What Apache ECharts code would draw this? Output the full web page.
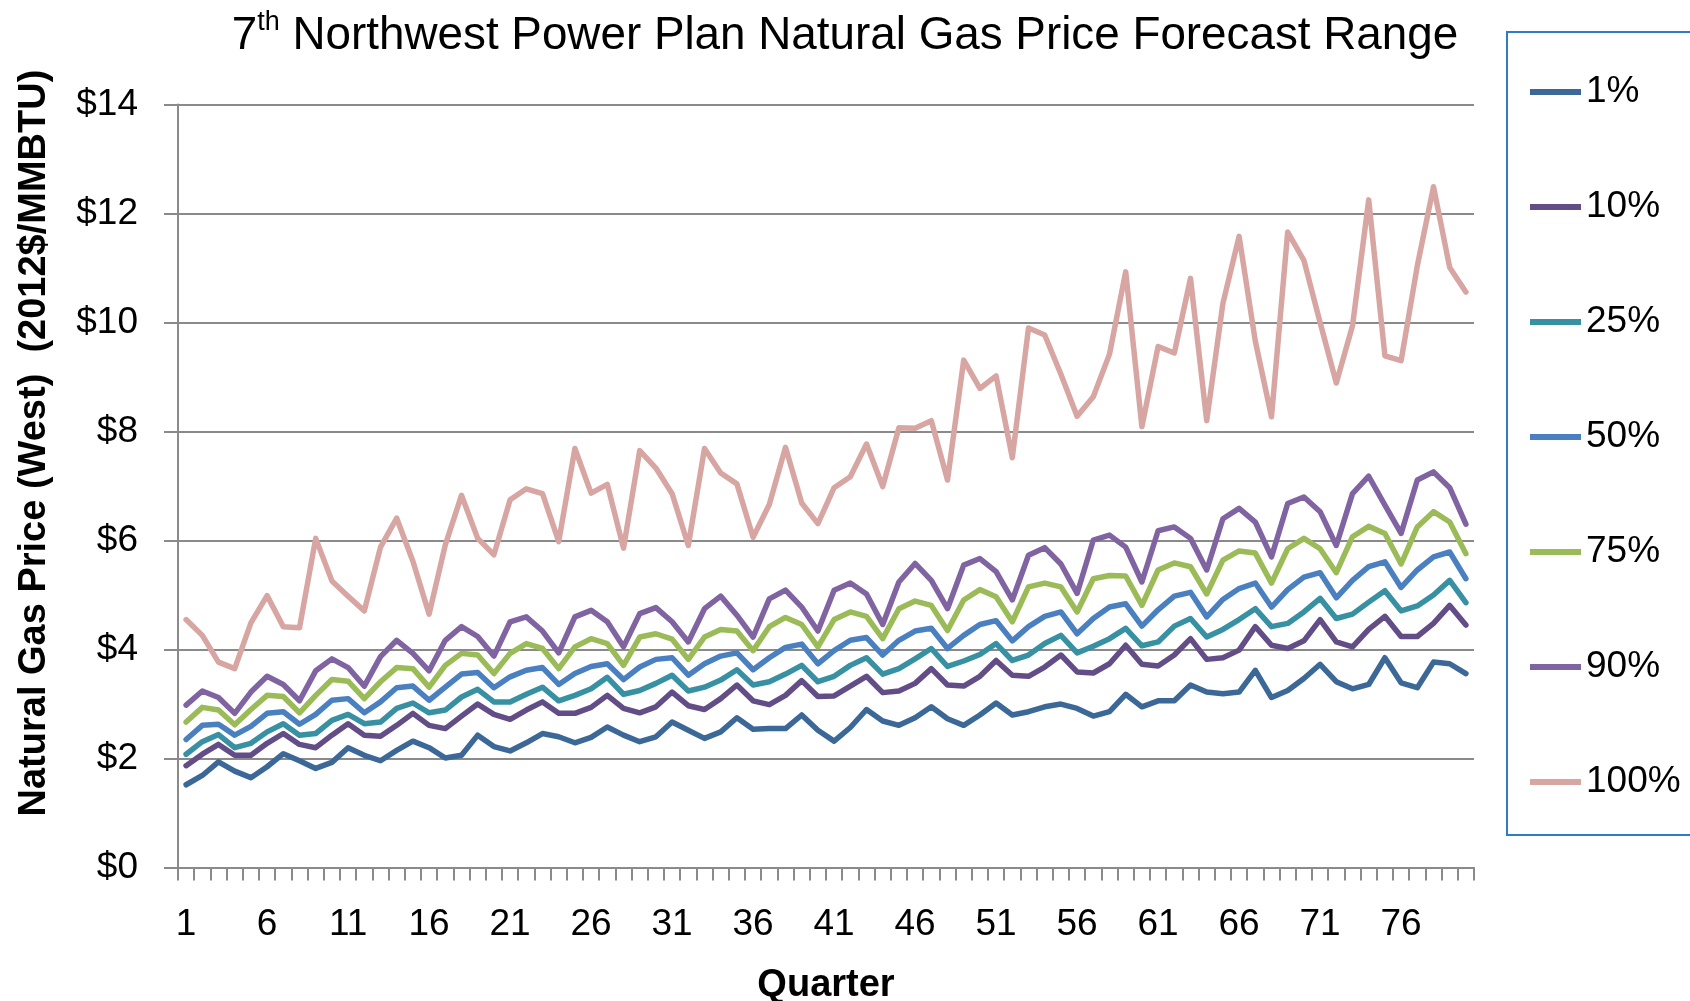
<!DOCTYPE html>
<html>
<head>
<meta charset="utf-8">
<script src="https://cdn.jsdelivr.net/npm/echarts@6/dist/echarts.min.js"></script>
<style>
  html, body { margin: 0; padding: 0; background: #ffffff; }
  #chart { width: 1690px; height: 1001px; }
</style>
</head>
<body>
<div id="chart"></div>
<script>
// ---- Data ----
const quarters = Array.from({length: 80}, (_, i) => String(i + 1));
const seriesNames = ['1%', '10%', '25%', '50%', '75%', '90%', '100%'];

const p1 = [1.52,1.69,1.94,1.77,1.65,1.85,2.09,1.96,1.82,1.93,2.20,2.06,1.96,2.15,2.32,2.20,2.01,2.06,2.43,2.22,
            2.14,2.29,2.46,2.40,2.29,2.39,2.58,2.43,2.31,2.40,2.67,2.52,2.37,2.49,2.75,2.54,2.55,2.55,2.80,2.52,
            2.32,2.57,2.90,2.69,2.61,2.75,2.95,2.73,2.61,2.80,3.02,2.80,2.86,2.95,3.00,2.92,2.78,2.86,3.18,2.95,
            3.06,3.06,3.35,3.22,3.19,3.22,3.62,3.12,3.25,3.47,3.73,3.41,3.28,3.36,3.85,3.39,3.30,3.77,3.74,3.56];
const p10 = [1.87,2.08,2.26,2.06,2.06,2.28,2.46,2.26,2.20,2.43,2.64,2.43,2.41,2.61,2.83,2.61,2.55,2.78,3.00,2.81,
             2.72,2.89,3.04,2.83,2.83,2.94,3.16,2.92,2.84,2.95,3.22,2.97,2.90,3.10,3.35,3.06,2.99,3.16,3.43,3.14,
             3.15,3.33,3.51,3.21,3.24,3.38,3.65,3.35,3.33,3.51,3.80,3.53,3.51,3.68,3.90,3.59,3.57,3.74,4.08,3.73,
             3.70,3.90,4.20,3.82,3.85,3.99,4.42,4.08,4.02,4.16,4.55,4.14,4.05,4.37,4.61,4.24,4.24,4.48,4.81,4.45];
const p25 = [2.08,2.31,2.44,2.20,2.28,2.49,2.64,2.43,2.46,2.70,2.81,2.64,2.67,2.92,3.02,2.84,2.89,3.13,3.27,3.04,
             3.04,3.18,3.31,3.06,3.16,3.28,3.49,3.18,3.25,3.38,3.53,3.24,3.31,3.44,3.63,3.35,3.41,3.55,3.71,3.41,
             3.51,3.71,3.85,3.55,3.65,3.83,4.02,3.69,3.79,3.91,4.11,3.80,3.90,4.11,4.26,3.94,4.06,4.20,4.39,4.07,
             4.14,4.43,4.57,4.23,4.37,4.55,4.75,4.42,4.48,4.69,4.94,4.57,4.65,4.87,5.08,4.71,4.80,5.00,5.27,4.86];
const p50 = [2.35,2.61,2.63,2.43,2.59,2.83,2.86,2.63,2.81,3.07,3.10,2.84,3.04,3.30,3.33,3.07,3.31,3.55,3.58,3.30,
             3.50,3.62,3.67,3.36,3.56,3.69,3.74,3.45,3.68,3.82,3.85,3.53,3.74,3.88,3.94,3.63,3.85,4.04,4.10,3.74,
             3.98,4.17,4.22,3.90,4.17,4.34,4.39,4.02,4.26,4.46,4.53,4.16,4.42,4.61,4.69,4.29,4.57,4.78,4.84,4.43,
             4.73,4.98,5.05,4.60,4.92,5.12,5.22,4.78,5.10,5.33,5.41,4.95,5.27,5.52,5.61,5.14,5.46,5.70,5.79,5.30];
const p75 = [2.67,2.94,2.89,2.62,2.90,3.16,3.14,2.84,3.16,3.45,3.42,3.10,3.41,3.67,3.65,3.31,3.71,3.93,3.90,3.56,
             3.93,4.11,4.02,3.65,4.05,4.20,4.11,3.71,4.23,4.29,4.19,3.82,4.23,4.37,4.34,3.98,4.42,4.59,4.46,4.05,
             4.55,4.69,4.61,4.20,4.75,4.89,4.81,4.35,4.91,5.10,4.97,4.51,5.15,5.22,5.15,4.69,5.30,5.36,5.35,4.81,
             5.46,5.59,5.52,5.02,5.64,5.81,5.77,5.22,5.85,6.04,5.85,5.41,6.07,6.26,6.13,5.57,6.25,6.53,6.34,5.76];
const p90 = [2.98,3.24,3.12,2.83,3.22,3.51,3.36,3.06,3.61,3.83,3.67,3.33,3.87,4.17,3.93,3.61,4.17,4.42,4.24,3.88,
             4.51,4.60,4.34,3.94,4.60,4.72,4.51,4.05,4.66,4.77,4.51,4.14,4.75,4.98,4.63,4.23,4.93,5.09,4.78,4.34,
             5.09,5.22,5.02,4.46,5.24,5.58,5.27,4.75,5.55,5.67,5.43,4.91,5.73,5.87,5.57,5.03,6.01,6.10,5.88,5.24,
             6.18,6.25,6.04,5.46,6.40,6.59,6.34,5.70,6.68,6.80,6.53,5.91,6.86,7.18,6.65,6.13,7.11,7.26,6.97,6.30];
const p100 = [4.55,4.26,3.77,3.65,4.49,4.99,4.42,4.40,6.04,5.26,4.98,4.71,5.88,6.41,5.62,4.65,5.92,6.83,6.04,5.74,
              6.75,6.95,6.86,5.98,7.69,6.87,7.03,5.86,7.65,7.33,6.86,5.91,7.69,7.24,7.04,6.06,6.66,7.71,6.69,6.31,
              6.97,7.17,7.77,6.99,8.07,8.06,8.20,7.11,9.31,8.79,9.02,7.52,9.90,9.77,9.05,8.28,8.64,9.42,10.93,8.09,
              9.56,9.44,10.81,8.20,10.35,11.58,9.66,8.27,11.66,11.14,10.00,8.89,9.94,12.25,9.39,9.30,11.04,12.49,11.01,10.56];

const yTicks = { min: 0, max: 14, interval: 2 };
const titleText = '7{sup|th} Northwest Power Plan Natural Gas Price Forecast Range';
const xAxisTitle = 'Quarter';
const yAxisTitle = 'Natural Gas Price (West)  (2012$/MMBTU)';

// ---- Styles ----
const colors = ['#3C6898', '#634D87', '#3890A3', '#4A80C0', '#9BBB59', '#8064A2', '#D7A6A3'];
const FONT = 'Liberation Sans';
const gridColor = '#8A8A8A';

const values = [p1, p10, p25, p50, p75, p90, p100];

const chart = echarts.init(document.getElementById('chart'), null, { renderer: 'canvas' });

const option = {
  backgroundColor: '#ffffff',
  animation: false,
  title: {
    text: titleText,
    left: 'center',
    top: 4,
    textStyle: {
      fontFamily: FONT,
      fontSize: 45.8,
      fontWeight: 'normal',
      color: '#000',
      rich: {
        sup: { fontFamily: FONT, fontSize: 27, verticalAlign: 'top', color: '#000', lineHeight: 54 }
      }
    }
  },
  graphic: [
    {
      type: 'rect',
      silent: true,
      shape: { x: 1507, y: 32, width: 220, height: 803 },
      style: { fill: 'none', stroke: '#2F7BC4', lineWidth: 2 }
    }
  ],
  legend: {
    orient: 'vertical',
    left: 1525,
    top: 67,
    itemWidth: 51,
    itemHeight: 12,
    itemGap: 75,
    icon: 'path://M0,0 L51,0 L51,6 L0,6 Z',
    textStyle: { fontFamily: FONT, fontSize: 37, color: '#000', lineHeight: 40, padding: [0, 0, 0, 0] },
    data: seriesNames
  },
  grid: {
    left: 178,
    right: 216,
    top: 104.5,
    bottom: 133.4,
    containLabel: false,
    outerBoundsMode: 'none'
  },
  xAxis: {
    type: 'category',
    data: quarters,
    boundaryGap: true,
    name: xAxisTitle,
    nameLocation: 'middle',
    nameGap: 99,
    nameTextStyle: { fontFamily: FONT, fontSize: 38, fontWeight: 'bold', color: '#000' },
    axisLine: { show: true, lineStyle: { color: gridColor, width: 2 } },
    axisTick: { show: true, interval: 0, length: 13, lineStyle: { color: gridColor, width: 2 } },
    axisLabel: { interval: 4, margin: 39, fontFamily: FONT, fontSize: 37, color: '#000' },
    splitLine: { show: false }
  },
  yAxis: {
    type: 'value',
    min: yTicks.min,
    max: yTicks.max,
    interval: yTicks.interval,
    name: yAxisTitle,
    nameLocation: 'middle',
    nameGap: 124,
    nameTextStyle: { fontFamily: FONT, fontSize: 38, fontWeight: 'bold', color: '#000', padding: [0, 0, 0, 86] },
    axisLine: { show: true, lineStyle: { color: gridColor, width: 2 } },
    axisTick: { show: true, length: 14, lineStyle: { color: gridColor, width: 2 } },
    axisLabel: {
      margin: 40, fontFamily: FONT, fontSize: 37, color: '#000',
      formatter: v => '$' + v
    },
    splitLine: { show: true, lineStyle: { color: gridColor, width: 2 } }
  },
  series: seriesNames.map((name, i) => ({
    name: name,
    type: 'line',
    data: values[i],
    symbol: 'none',
    smooth: false,
    color: colors[i],
    lineStyle: { color: colors[i], width: 5.5, cap: 'round', join: 'round' },
    itemStyle: { color: colors[i] },
    z: 2 + i
  }))
};

chart.setOption(option);
</script>
</body>
</html>
